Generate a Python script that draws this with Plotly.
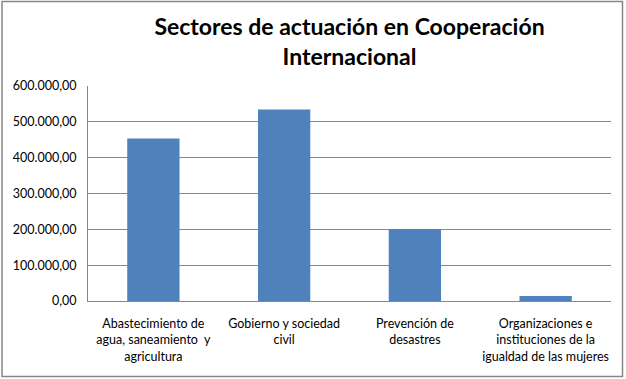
import plotly.graph_objects as go

categories = [
    "Abastecimiento de<br>agua, saneamiento  y<br>agricultura",
    "Gobierno y sociedad<br>civil",
    "Prevención de<br>desastres",
    "Organizaciones e<br>instituciones de la<br>igualdad de las mujeres",
]
values = [453500, 534700, 200500, 14000]
y_ticks = [0, 100000, 200000, 300000, 400000, 500000, 600000]

W, H = 626, 379
ml, mr, mt, mb = 88, 15, 86, 78
pw, ph = W - ml - mr, H - mt - mb

def px_x(p):
    return (p - ml) / pw

def px_y(p):
    return (H - mb - p) / ph

fig = go.Figure(go.Bar(x=categories, y=values, marker_color="#4F81BD",
                       marker_line_width=0, width=0.4))

fig.update_layout(
    width=W, height=H,
    margin=dict(l=ml, r=mr, t=mt, b=mb),
    paper_bgcolor="white", plot_bgcolor="white",
    separators=",.",
    showlegend=False,
    font=dict(family="Lato, Open Sans, sans-serif", size=12.5, color="#000000"),
    title=dict(text="<b>Sectores de actuación en Cooperación<br>Internacional</b>",
               x=0.5, xref="paper", xanchor="center", y=1 - 35/H, yanchor="middle",
               font=dict(family="Lato, sans-serif", size=23, color="#000000")),
    bargap=0.6,
)
fig.update_yaxes(range=[0, 600000], tickvals=y_ticks, tickformat=",.2f",
                 showgrid=True, gridcolor="#878787", gridwidth=1,
                 showline=True, linecolor="#878787", linewidth=1,
                 ticks="", ticklabelstandoff=8, zeroline=False, fixedrange=True)
fig.update_xaxes(showline=True, linecolor="#878787", linewidth=1, ticks="",
                 ticklabelstandoff=11, fixedrange=True)
fig.add_shape(type="rect", xref="paper", yref="paper",
              x0=px_x(2), x1=px_x(622.5), y0=px_y(376.5), y1=px_y(1.5),
              line=dict(color="#878787", width=1.5), fillcolor="rgba(0,0,0,0)")

fig.write_html("out.html", config={"displayModeBar": False},
               post_script="document.body.style.margin='0';document.body.style.overflow='hidden';")
